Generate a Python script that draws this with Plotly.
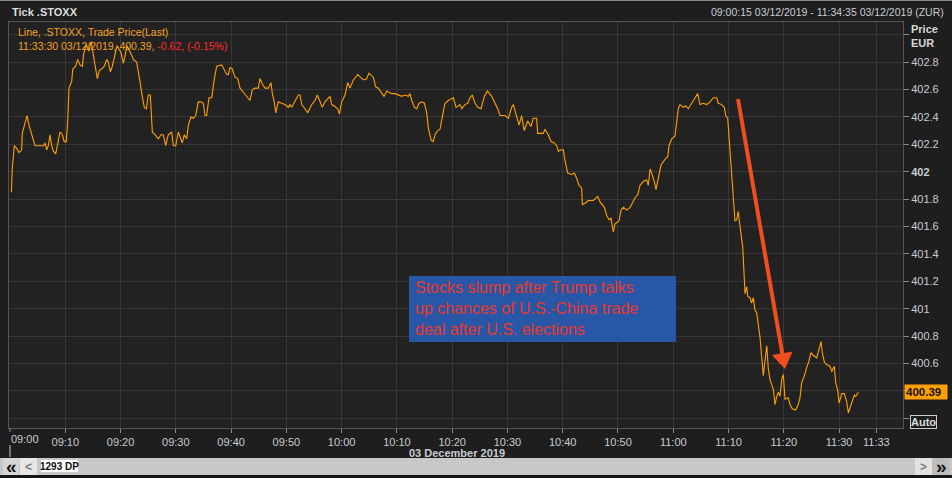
import plotly.graph_objects as go

# ---------------- data ----------------
DATE = "2019-12-03"
times = [
 "09:00:15","09:00:25","09:00:47","09:01:13","09:01:38","09:02:07","09:02:13","09:02:35","09:03:05","09:03:26",
 "09:03:48","09:04:13","09:04:31","09:05:07","09:06:02","09:06:20","09:06:38","09:06:56","09:07:14","09:07:33",
 "09:07:50","09:08:16","09:08:38","09:09:03","09:09:28","09:09:49","09:10:11","09:10:26","09:10:40","09:11:10",
 "09:11:21","09:11:53","09:12:15","09:12:40","09:13:05","09:13:20","09:13:45","09:14:17","09:14:40","09:15:04",
 "09:15:23","09:15:48","09:16:10","09:16:35","09:17:04","09:17:30","09:17:47","09:18:09","09:18:31","09:19:00",
 "09:19:22","09:20:05","09:20:30","09:20:49","09:21:10","09:22:01","09:22:19","09:22:55","09:23:13","09:23:31",
 "09:23:50","09:24:18","09:24:40","09:25:01","09:25:23","09:25:31","09:25:45","09:26:14","09:26:50","09:27:19",
 "09:27:44","09:28:10","09:28:38","09:29:15","09:29:33","09:29:59","09:30:27","09:31:10","09:31:32","09:31:58",
 "09:32:16","09:32:45","09:33:10","09:33:36","09:34:04","09:34:33","09:34:58","09:35:17","09:35:35","09:36:00",
 "09:36:30","09:36:58","09:37:24","09:38:18","09:38:46","09:39:12","09:39:30","09:39:48","09:40:13","09:40:43",
 "09:41:12","09:41:37","09:42:13","09:42:50","09:43:25","09:43:50","09:44:20","09:44:56","09:45:14","09:45:39",
 "09:46:08","09:46:44","09:47:13","09:47:28","09:47:49","09:48:04","09:48:33","09:49:09","09:49:45","09:50:21",
 "09:50:40","09:50:58","09:51:34","09:52:10","09:52:28","09:52:47","09:53:22","09:53:52","09:54:35","09:55:11",
 "09:55:36","09:56:05","09:56:30","09:56:59","09:57:35","09:57:54","09:58:12","09:58:41","09:59:17","09:59:35",
 "10:00:01","10:00:37","10:01:06","10:01:31","10:02:07","10:02:55","10:03:38","10:04:14","10:04:32","10:04:57",
 "10:05:44","10:06:10","10:06:38","10:07:15","10:07:40","10:08:10","10:09:04","10:09:40","10:10:16","10:10:52",
 "10:11:28","10:12:04","10:12:22","10:12:41","10:13:10","10:13:35","10:14:01","10:14:30","10:14:58","10:15:24",
 "10:15:41","10:16:11","10:16:35","10:16:54","10:17:23","10:17:48","10:18:13","10:18:42","10:19:18","10:19:55",
 "10:20:13","10:20:42","10:21:25","10:21:44","10:22:19","10:22:49","10:23:14","10:23:38","10:24:08","10:24:37",
 "10:25:13","10:25:49","10:26:22","10:27:09","10:27:45","10:28:14","10:28:40","10:29:34","10:30:10","10:30:46",
 "10:31:04","10:31:30","10:31:58","10:32:06","10:32:34","10:33:02","10:33:40","10:34:15","10:34:40","10:35:17",
 "10:35:28","10:36:29","10:36:48","10:37:23","10:37:53","10:38:29","10:38:55","10:39:12","10:39:41","10:40:07",
 "10:40:17","10:40:32","10:40:54","10:41:38","10:42:06","10:42:32","10:42:57","10:43:26","10:43:33","10:44:02",
 "10:44:38","10:45:32","10:46:20","10:46:45","10:47:04","10:47:32","10:47:58","10:48:23","10:48:44","10:49:09",
 "10:49:28","10:50:11","10:50:33","10:50:58","10:51:35","10:52:11","10:52:35","10:53:05","10:53:34","10:53:59",
 "10:54:35","10:55:12","10:55:29","10:55:48","10:56:06","10:56:34","10:56:53","10:57:18","10:57:47","10:58:31",
 "10:59:00","10:59:14","10:59:43","11:00:19","11:00:38","11:00:55","11:01:13","11:01:49","11:02:15","11:02:43",
 "11:03:20","11:03:56","11:04:25","11:04:50","11:05:26","11:06:03","11:06:39","11:07:15","11:07:52","11:08:09",
 "11:08:46","11:09:14","11:09:30","11:09:51","11:10:09","11:10:27","11:10:41","11:10:52","11:11:10","11:11:29",
 "11:11:46","11:11:57","11:12:16","11:12:34","11:12:52","11:12:59","11:13:17","11:13:28","11:13:53","11:14:11",
 "11:14:29","11:14:47","11:15:06","11:15:23","11:15:42","11:16:00","11:16:17","11:16:36","11:16:55","11:17:12",
 "11:17:31","11:18:07","11:18:25","11:18:43","11:19:01","11:19:19","11:19:37","11:19:55","11:20:13","11:20:49",
 "11:21:07","11:21:32","11:22:09","11:22:37","11:22:56","11:23:14","11:23:43","11:24:08","11:24:34","11:24:55",
 "11:25:20","11:25:57","11:26:14","11:26:44","11:26:58","11:27:20","11:27:46","11:28:22","11:28:40","11:29:08",
 "11:29:24","11:29:46","11:30:00","11:30:29","11:30:57","11:31:23","11:31:41","11:31:59","11:32:18","11:32:46",
 "11:33:01","11:33:30",
]
prices = [
 401.85,402.03,402.19,402.17,402.14,402.16,402.28,402.33,402.41,402.34,
 402.29,402.25,402.19,402.19,402.19,402.21,402.16,402.19,402.27,402.19,
 402.15,402.13,402.22,402.29,402.27,402.22,402.22,402.36,402.61,402.66,
 402.75,402.77,402.82,402.78,402.77,402.86,402.93,402.88,402.95,402.85,
 402.75,402.68,402.74,402.75,402.77,402.82,402.80,402.73,402.77,402.86,
 402.92,402.87,402.79,402.85,402.92,402.85,402.82,402.80,402.71,402.66,
 402.57,402.47,402.46,402.56,402.56,402.47,402.29,402.27,402.24,402.27,
 402.27,402.19,402.27,402.29,402.19,402.19,402.29,402.21,402.27,402.24,
 402.34,402.40,402.39,402.41,402.51,402.51,402.50,402.41,402.41,402.54,
 402.54,402.68,402.77,402.78,402.74,402.71,402.71,402.76,402.75,402.69,
 402.68,402.61,402.58,402.55,402.52,402.60,402.61,402.61,402.68,402.64,
 402.61,402.61,402.65,402.57,402.51,402.43,402.51,402.50,402.49,402.47,
 402.49,402.47,402.52,402.56,402.56,402.49,402.46,402.43,402.49,402.52,
 402.56,402.51,402.47,402.51,402.54,402.55,402.49,402.48,402.46,402.42,
 402.51,402.56,402.65,402.61,402.67,402.71,402.68,402.67,402.68,402.72,
 402.69,402.62,402.61,402.57,402.55,402.59,402.57,402.57,402.56,402.55,
 402.56,402.55,402.57,402.52,402.47,402.46,402.50,402.51,402.50,402.43,
 402.32,402.23,402.22,402.27,402.30,402.31,402.40,402.50,402.52,402.53,
 402.54,402.47,402.49,402.46,402.49,402.50,402.54,402.56,402.50,402.47,
 402.46,402.55,402.59,402.55,402.50,402.46,402.41,402.41,402.39,402.47,
 402.49,402.43,402.37,402.34,402.41,402.30,402.37,402.33,402.39,402.39,
 402.28,402.28,402.31,402.27,402.22,402.21,402.19,402.15,402.16,402.16,
 402.11,402.05,401.99,401.98,401.99,401.95,401.90,401.88,401.76,401.77,
 401.79,401.79,401.82,401.78,401.76,401.74,401.68,401.65,401.66,401.56,
 401.62,401.64,401.72,401.74,401.72,401.74,401.77,401.81,401.83,401.90,
 401.93,401.94,401.90,402.02,401.99,401.93,401.87,401.95,402.05,402.09,
 402.11,402.19,402.24,402.26,402.36,402.46,402.49,402.47,402.48,402.46,
 402.50,402.54,402.57,402.49,402.50,402.49,402.51,402.54,402.54,402.50,
 402.49,402.47,402.41,402.39,402.22,402.04,401.94,401.77,401.64,401.65,
 401.71,401.64,401.55,401.45,401.21,401.11,401.16,401.09,401.08,401.04,
 401.08,400.99,400.97,400.89,400.79,400.65,400.51,400.62,400.73,400.56,
 400.48,400.41,400.30,400.36,400.39,400.36,400.48,400.52,400.34,400.35,
 400.30,400.27,400.26,400.30,400.35,400.46,400.51,400.57,400.62,400.68,
 400.66,400.64,400.68,400.76,400.68,400.61,400.59,400.58,400.54,400.58,
 400.46,400.40,400.31,400.38,400.38,400.32,400.24,400.28,400.32,400.37,
 400.36,400.39,
]
change_abs = -0.62
change_pct = -0.15
x_tick_times = ["09:10","09:20","09:30","09:40","09:50","10:00","10:10","10:20",
                "10:30","10:40","10:50","11:00","11:10","11:20","11:30","11:36:45"]
x_tick_labels = ["09:10","09:20","09:30","09:40","09:50","10:00","10:10","10:20",
                 "10:30","10:40","10:50","11:00","11:10","11:20","11:30","11:33"]
y_tick_vals = [400.2,400.4,400.6,400.8,401.0,401.2,401.4,401.6,401.8,402.0,402.2,402.4,402.6,402.8,403.0]
y_tick_labels = ["","","400.6","400.8","401","401.2","401.4","401.6","401.8","<b>402</b>",
                 "402.2","402.4","402.6","402.8",""]
title_left = "Tick .STOXX"
title_right = "09:00:15 03/12/2019 - 11:34:35 03/12/2019 (ZUR)"
legend_line1 = "Line, .STOXX, Trade Price(Last)"
note_lines = ["Stocks slump after Trump talks", "up chances of U.S.-China trade", "deal after U.S. elections"]
date_label = "03 December 2019"
dp_label = "1293 DP"

# ---------------- layout geometry (pixels) ----------------
W, H = 952, 478
L, R, T, B = 9, 903, 22, 428
FONT = "Liberation Sans, Arial, sans-serif"
ORANGE = "#ffa000"

def px(x):
    return (x - L) / (R - L)

def py(y):
    return (B - y) / (B - T)

xt = [f"{DATE} {t}" for t in times]
fig = go.Figure()
fig.add_trace(go.Scatter(x=xt, y=prices, mode="lines",
                         line=dict(color=ORANGE, width=1.1), hoverinfo="skip"))

fig.update_layout(
    width=W, height=H, showlegend=False,
    margin=dict(l=L, r=W - R, t=T, b=H - B),
    paper_bgcolor="#1e1e1e", plot_bgcolor="#222222",
    font=dict(family=FONT, size=11, color="#c8ccd2"),
)
fig.update_xaxes(
    type="date", range=[f"{DATE} 08:59:49", f"{DATE} 11:41:34"],
    tickmode="array", tickvals=[f"{DATE} {t}" for t in x_tick_times], ticktext=x_tick_labels,
    ticks="outside", ticklen=4, tickcolor="#8a8a8a",
    showgrid=True, gridcolor="#383838", gridwidth=1,
    showline=True, linecolor="#555555", mirror=True, zeroline=False,
    tickfont=dict(family=FONT, size=11, color="#c8ccd2"),
)
fig.update_yaxes(
    side="right", range=[400.129, 403.093],
    tickmode="array", tickvals=y_tick_vals, ticktext=y_tick_labels,
    ticks="outside", ticklen=5, tickcolor="#8a8a8a",
    showgrid=True, gridcolor="#383838", gridwidth=1,
    showline=True, linecolor="#555555", mirror=True, zeroline=False,
    tickfont=dict(family=FONT, size=11, color="#c8ccd2"),
)

shapes = []
ann = []

# top window edge
shapes.append(dict(type="line", xref="paper", yref="paper", x0=px(0), x1=px(W), y0=py(0.5), y1=py(0.5),
                   line=dict(color="#8a8a8a", width=1)))
# day separator below 09:00 tick
shapes.append(dict(type="line", xref="x", yref="paper", x0=f"{DATE} 09:00", x1=f"{DATE} 09:00",
                   y0=py(445), y1=py(457), line=dict(color="#c8ccd2", width=1)))
# 09:00 tick mark
shapes.append(dict(type="line", xref="x", yref="paper", x0=f"{DATE} 09:00", x1=f"{DATE} 09:00",
                   y0=py(428), y1=py(432), line=dict(color="#8a8a8a", width=1)))
# bottom scrollbar
shapes.append(dict(type="rect", xref="paper", yref="paper", x0=px(0), x1=px(W), y0=py(475), y1=py(458),
                   fillcolor="#c8c8c8", line=dict(width=0), layer="above"))
shapes.append(dict(type="rect", xref="paper", yref="paper", x0=px(0), x1=px(W), y0=py(478), y1=py(475),
                   fillcolor="#151515", line=dict(width=0), layer="above"))
shapes.append(dict(type="rect", xref="paper", yref="paper", x0=px(3), x1=px(19), y0=py(475), y1=py(458),
                   fillcolor="#d6d6d6", line=dict(width=0), layer="above"))
shapes.append(dict(type="rect", xref="paper", yref="paper", x0=px(20), x1=px(37), y0=py(475), y1=py(458),
                   fillcolor="#e6e6e6", line=dict(width=0), layer="above"))
shapes.append(dict(type="rect", xref="paper", yref="paper", x0=px(41), x1=px(78), y0=py(472), y1=py(460),
                   fillcolor="#ffffff", line=dict(width=0), layer="above"))
shapes.append(dict(type="rect", xref="paper", yref="paper", x0=px(915), x1=px(932), y0=py(475), y1=py(458),
                   fillcolor="#e2e2e2", line=dict(width=0), layer="above"))
shapes.append(dict(type="rect", xref="paper", yref="paper", x0=px(932), x1=px(950), y0=py(475), y1=py(458),
                   fillcolor="#bdbdbd", line=dict(width=0), layer="above"))

# note box
shapes.append(dict(type="rect", xref="paper", yref="paper", x0=px(409), x1=px(676), y0=py(342), y1=py(276),
                   fillcolor="#2757a6", line=dict(width=0), layer="above"))
# arrow
ARROW = "#f04e1e"
tail = (738, 99)
tip = (785, 369)
dx, dy = tip[0] - tail[0], tip[1] - tail[1]
ln = (dx * dx + dy * dy) ** 0.5
ux, uy = dx / ln, dy / ln
hl, hw = 16, 10.5
bc = (tip[0] - hl * ux, tip[1] - hl * uy)
b1 = (bc[0] + hw * uy, bc[1] - hw * ux)
b2 = (bc[0] - hw * uy, bc[1] + hw * ux)
shapes.append(dict(type="line", xref="paper", yref="paper", x0=px(tail[0]), y0=py(tail[1]),
                   x1=px(bc[0] + ux), y1=py(bc[1] + uy), line=dict(color=ARROW, width=4), layer="above"))
path = (f"M {px(tip[0])} {py(tip[1])} L {px(b1[0])} {py(b1[1])} L {px(b2[0])} {py(b2[1])} Z")
shapes.append(dict(type="path", xref="paper", yref="paper", path=path, fillcolor=ARROW,
                   line=dict(color=ARROW, width=0), layer="above"))

def text(x, y, s, size=11, color="#c8ccd2", xanchor="left", yanchor="middle", **kw):
    ann.append(dict(xref="paper", yref="paper", x=px(x), y=py(y), text=s, showarrow=False,
                    xanchor=xanchor, yanchor=yanchor, font=dict(family=FONT, size=size, color=color), **kw))

text(10, 12, f"<b>{title_left}</b>", size=11, color="#dcdcdc")
text(946, 12, title_right, size=10.5, color="#c8ccd2", xanchor="right")
text(16, 32, legend_line1, size=10.5, color="#f5a020")
last_time = times[-1]
d = DATE.split("-")
legend_line2 = (f"{last_time} {d[2]}/{d[1]}/{d[0]}, {prices[-1]:.2f}, "
                f"<span style='color:#ff2a2a'>{change_abs:.2f}, ({change_pct:.2f}%)</span>")
text(16, 46, legend_line2, size=10.5, color="#f5a020")
text(909, 29, "<b>Price</b>", size=11, color="#d8d8d8")
text(909, 43, "<b>EUR</b>", size=11, color="#d8d8d8")
text(457, 453, f"<b>{date_label}</b>", size=11, color="#c8ccd2", xanchor="center")
# 09:00 label (left aligned at the axis start)
ann.append(dict(xref="x", yref="paper", x=f"{DATE} 09:00", y=py(439), text="09:00", showarrow=False,
                xanchor="left", yanchor="middle", xshift=-1, font=dict(family=FONT, size=11, color="#c8ccd2")))
# last price tag
ann.append(dict(xref="paper", yref="y", x=px(904), y=prices[-1], text=f"<b>{prices[-1]:.2f}</b>",
                showarrow=False, xanchor="left", yanchor="middle", bgcolor=ORANGE, borderpad=1,
                width=40, align="left", font=dict(family=FONT, size=11.5, color="#111111")))
# Auto box
ann.append(dict(xref="paper", yref="paper", x=px(910), y=py(422), text="<b>Auto</b>", showarrow=False,
                xanchor="left", yanchor="middle", bgcolor="#1e1e1e", bordercolor="#cfcfcf", borderwidth=1,
                borderpad=0, font=dict(family=FONT, size=11, color="#dcdcdc")))
# note text
ann.append(dict(xref="paper", yref="paper", x=px(413), y=py(277), text="<br>".join(note_lines),
                showarrow=False, xanchor="left", yanchor="top", align="left",
                font=dict(family=FONT, size=16, color="#e8392c")))
# scrollbar labels
text(11, 466.5, "<b>«</b>", size=19, color="#111111", xanchor="center")
text(28.5, 466.5, "<b>&lt;</b>", size=12, color="#7a7a7a", xanchor="center")
text(59.5, 466.5, f"<b>{dp_label}</b>", size=10, color="#111111", xanchor="center")
text(923.5, 466.5, "<b>&gt;</b>", size=12, color="#7a7a7a", xanchor="center")
text(941, 466.5, "<b>»</b>", size=19, color="#111111", xanchor="center")

fig.update_layout(shapes=shapes, annotations=ann)
fig.write_html("out.html", config={"displayModeBar": False},
               post_script="document.body.style.margin='0';document.body.style.overflow='hidden';")
